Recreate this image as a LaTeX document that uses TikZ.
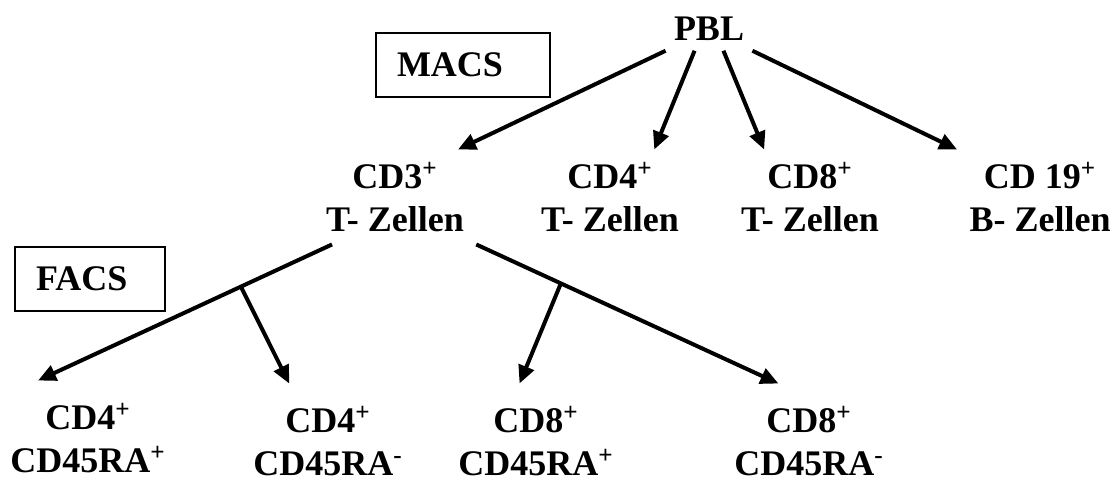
\documentclass[tikz,border=0pt]{standalone}
\usepackage{fontspec}
\setmainfont{Liberation Serif}
\usetikzlibrary{arrows.meta,positioning,calc}

\begin{document}
\begin{tikzpicture}[
    x=0.5pt, y=-0.5pt,
    % --- STYLES ---
    cell/.style={
        font=\fontsize{18}{21.5}\selectfont\bfseries,
        align=center, inner xsep=6pt, inner ysep=6pt
    },
    subset/.style={cell, inner ysep=11pt},
    method/.style={
        rectangle, draw=black, line width=1pt,
        font=\fontsize{18}{21.5}\selectfont\bfseries,
        align=left, inner xsep=10.5pt, minimum height=32pt
    },
    flow/.style={-{Triangle[length=9pt,width=8pt]}, line width=2pt}
]
\useasboundingbox (0,0) rectangle (1113,482);

% ===== 1. SOURCE & METHODS =====
\node[cell, inner xsep=4pt, inner ysep=5pt] (pbl) at (709,28.5) {PBL};

\node[method, text width=66pt] (macs) at (463,65) {MACS};
\node[method, text width=54pt] (facs) at (90,278.5) {FACS};

% ===== 2. MACS LEVEL =====
\node[cell] (cd3) at (395,197) {CD3\textsuperscript{+}\\T- Zellen};
\node[cell] (cd4) at (610,197) {CD4\textsuperscript{+}\\T- Zellen};
\node[cell] (cd8) at (810,197) {CD8\textsuperscript{+}\\T- Zellen};
\node[cell] (cd19) at (1040,197) {CD 19\textsuperscript{+}\\B- Zellen};

% ===== 3. FACS LEVEL =====
\node[subset] (c4p) at (88,438) {CD4\textsuperscript{+}\\CD45RA\textsuperscript{+}};
\node[subset] (c4m) at (328,441) {CD4\textsuperscript{+}\\CD45RA\textsuperscript{-}};
\node[subset] (c8p) at (536,441) {CD8\textsuperscript{+}\\CD45RA\textsuperscript{+}};
\node[subset] (c8m) at (809,441) {CD8\textsuperscript{+}\\CD45RA\textsuperscript{-}};

% ===== 4. CONNECTIONS =====
\draw[flow] (pbl.south west) -- (cd3.37);
\draw[flow] (pbl.237) -- (cd4.47);
\draw[flow] (pbl.303) -- (cd8.134);
\draw[flow] (pbl.south east) -- (cd19.north west);

% split of CD3+ cells
\draw[flow] (cd3.217) -- coordinate[pos=.31] (splitl) (c4p.131);
\draw[flow] (splitl) -- (c4m.124);
\draw[flow] (cd3.south east) -- coordinate[pos=.28] (splitr) (c8m.118);
\draw[flow] (splitr) -- (c8p.106);

\end{tikzpicture}
\end{document}
